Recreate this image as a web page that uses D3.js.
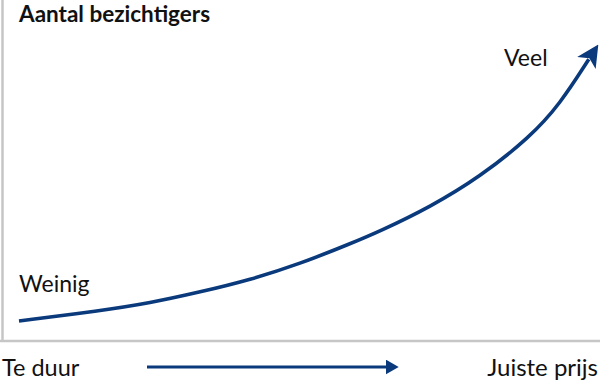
<!DOCTYPE html>
<html>
<head>
<meta charset="utf-8">
<script src="https://cdn.jsdelivr.net/npm/d3@7"></script>
<style>
  html, body { margin: 0; padding: 0; background: #fff; }
  svg { display: block; }
  text { font-family: Lato, "Open Sans", sans-serif; fill: #111; }
</style>
</head>
<body>
<svg id="chart" width="600" height="382"></svg>
<script>
// Data (abstract units: price 0..100, visitors 0..100)
const priceValues    = [0, 14, 22.6, 31.3, 39.9, 48.5, 57.2, 62.3, 71, 79.6, 88.3, 93.4, 100];
const visitorValues  = [0, 3.7, 6.5, 10.5, 14.9, 20.7, 28.0, 32.5, 41.3, 52.2, 66.7, 78.5, 100];
const titleText = "Aantal bezichtigers";
const yLabels = ["Weinig", "Veel"];
const xLabels = ["Te duur", "Juiste prijs"];

const svg = d3.select("#chart");
const W = 600, H = 382;
const color = "#0a3a7c";
const axisColor = "#c6c6c6";

const x = d3.scaleLinear().domain([0, 100]).range([19, 598]);
const y = d3.scaleLinear().domain([0, 100]).range([321, 45]);

const defs = svg.append("defs");
defs.append("marker")
  .attr("id", "headBig")
  .attr("viewBox", "0 0 10 10")
  .attr("refX", 2).attr("refY", 5)
  .attr("markerUnits", "userSpaceOnUse")
  .attr("markerWidth", 22).attr("markerHeight", 22)
  .attr("orient", "auto")
  .append("path").attr("d", "M0,0 L10,5 L0,10 L2.5,5 Z").attr("fill", color);
defs.append("marker")
  .attr("id", "headSmall")
  .attr("viewBox", "0 0 10 10")
  .attr("refX", 1).attr("refY", 5)
  .attr("markerUnits", "userSpaceOnUse")
  .attr("markerWidth", 13).attr("markerHeight", 15)
  .attr("orient", "auto")
  .attr("preserveAspectRatio", "none")
  .append("path").attr("d", "M0,0 L10,5 L0,10 Z").attr("fill", color);

// axes
svg.append("line").attr("x1", 2.5).attr("x2", 2.5).attr("y1", 0).attr("y2", 342)
  .attr("stroke", axisColor).attr("stroke-width", 2.5);
svg.append("line").attr("x1", 0).attr("x2", W).attr("y1", 341).attr("y2", 341)
  .attr("stroke", axisColor).attr("stroke-width", 2.5);

// curve (shorten last point so arrowhead tip lands at the end)
const pts = priceValues.map((p, i) => [x(p), y(visitorValues[i])]);
const last = pts[pts.length - 1], prev = pts[pts.length - 2];
const dx = last[0] - prev[0], dy = last[1] - prev[1], len = Math.hypot(dx, dy);
const cut = 17;
pts[pts.length - 1] = [last[0] - dx / len * cut, last[1] - dy / len * cut];

svg.append("path")
  .attr("d", d3.line().curve(d3.curveBasis)(pts))
  .attr("fill", "none").attr("stroke", color).attr("stroke-width", 3.6)
  .attr("marker-end", "url(#headBig)");

// bottom arrow
svg.append("line").attr("x1", 147).attr("x2", 387).attr("y1", 367).attr("y2", 367)
  .attr("stroke", color).attr("stroke-width", 3)
  .attr("marker-end", "url(#headSmall)");

// texts
svg.append("text").attr("x", 19).attr("y", 22).text(titleText)
  .attr("font-weight", "bold").attr("font-size", 22.5);
svg.append("text").attr("x", 19).attr("y", 292).text(yLabels[0]).attr("font-size", 23);
svg.append("text").attr("x", 504).attr("y", 66).text(yLabels[1]).attr("font-size", 23);
svg.append("text").attr("x", 2).attr("y", 376).text(xLabels[0]).attr("font-size", 23.5);
svg.append("text").attr("x", 598).attr("y", 376).attr("text-anchor", "end").text(xLabels[1]).attr("font-size", 24);
</script>
</body>
</html>
